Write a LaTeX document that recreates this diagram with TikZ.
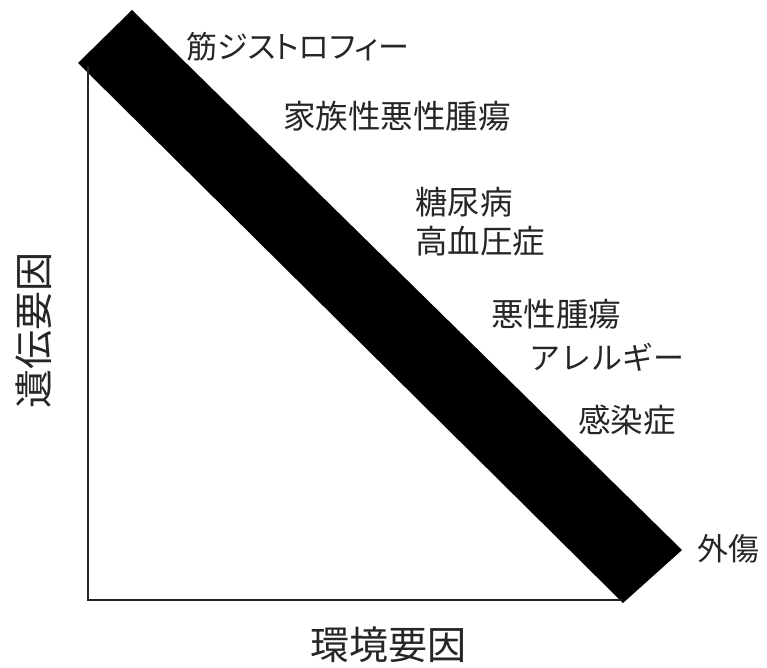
\documentclass[tikz,border=0pt]{standalone}
\usepackage{fontspec}
\newfontfamily\jp{Noto Sans CJK JP}
\newfontfamily\jpp[RawFeature=+palt]{Noto Sans CJK JP}
\begin{document}
\begin{tikzpicture}[x=1pt,y=-1pt,
  lbl/.style={font=\jp\fontsize{32.5}{32.5}\selectfont, inner sep=0pt, anchor=west, text=black!85},
  kana/.style={lbl, font=\jp\fontsize{31}{31}\selectfont},
  axlbl/.style={font=\jp\fontsize{39}{39}\selectfont, inner sep=0pt, text=black!85},
  axis/.style={line width=1.8pt, black!85}]
\useasboundingbox (0,0) rectangle (767,667);
% band
\coordinate (bt) at (132,10);
\coordinate (br) at (682,550);
\coordinate (bb) at (623,603);
\coordinate (bl) at (78,63);
\fill[black] (bt) -- (br) -- (bb) -- (bl) -- cycle;
% axes
\coordinate (top) at (88,66);
\coordinate (origin) at (88,600);
\coordinate (xend) at (622,600);
\draw[axis] (top) -- (origin) -- (xend);
% labels
\node[kana, font=\jpp\fontsize{31}{31}\selectfont] (l1) at (186,47) {筋ジストロフィー};
\node[lbl] (l2) at (283,116) {家族性悪性腫瘍};
\node[lbl] (l3) at (415,202) {糖尿病};
\node[lbl] (l4) at (415,241) {高血圧症};
\node[lbl] (l5) at (491,314) {悪性腫瘍};
\node[kana] (l6) at (529,357) {アレルギー};
\node[lbl] (l7) at (578,420) {感染症};
\node[kana] (l8) at (697,549) {外傷};
\node[axlbl, rotate=90] (yl) at (34,330) {遺伝要因};
\node[axlbl] (xl) at (388,645) {環境要因};
\end{tikzpicture}
\end{document}
